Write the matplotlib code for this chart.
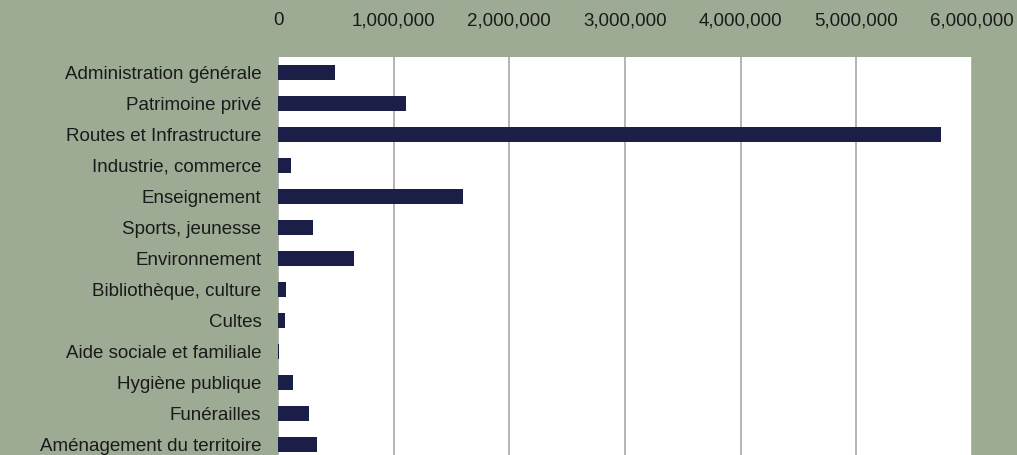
import matplotlib.pyplot as plt
from matplotlib.ticker import FuncFormatter

categories = [
    "Administration générale",
    "Patrimoine privé",
    "Routes et Infrastructure",
    "Industrie, commerce",
    "Enseignement",
    "Sports, jeunesse",
    "Environnement",
    "Bibliothèque, culture",
    "Cultes",
    "Aide sociale et familiale",
    "Hygiène publique",
    "Funérailles",
    "Aménagement du territoire",
]
values = [
    490000, 1110000, 5730000, 110000, 1600000, 300000, 655000,
    70000, 60000, 8000, 130000, 270000, 340000,
]
xticks = [0, 1000000, 2000000, 3000000, 4000000, 5000000, 6000000]

plt.rcParams['font.family'] = ['Liberation Sans', 'DejaVu Sans']

W, H = 1017, 455
fig = plt.figure(figsize=(W / 100, H / 100), dpi=100)
fig.patch.set_facecolor('#9eab94')

left, right, top = 278, 972, 57
row_h = 31
bottom = top + row_h * len(categories)
ax = fig.add_axes([left / W, 1 - bottom / H, (right - left) / W, (bottom - top) / H])
ax.set_facecolor('white')

ypos = list(range(len(categories)))
ax.barh(ypos, values, height=0.5, color='#1b1f47', zorder=3)

ax.set_xlim(0, 6000000)
ax.set_ylim(len(categories) - 0.5, -0.5)
ax.set_xticks(xticks)
ax.xaxis.set_major_formatter(FuncFormatter(lambda v, p: f"{int(v):,}"))
ax.set_yticks(ypos)
ax.set_yticklabels(categories)

ax.xaxis.tick_top()
ax.tick_params(axis='x', length=0, pad=20, labelsize=13.5, colors='#1a1a1a')
ax.tick_params(axis='y', length=0, pad=12, labelsize=13.5, colors='#1a1a1a')
ax.grid(axis='x', color='#a8a8a8', linewidth=1.2, zorder=0)
for s in ax.spines.values():
    s.set_visible(False)

fig.savefig("out.png", dpi=100, facecolor=fig.get_facecolor())
